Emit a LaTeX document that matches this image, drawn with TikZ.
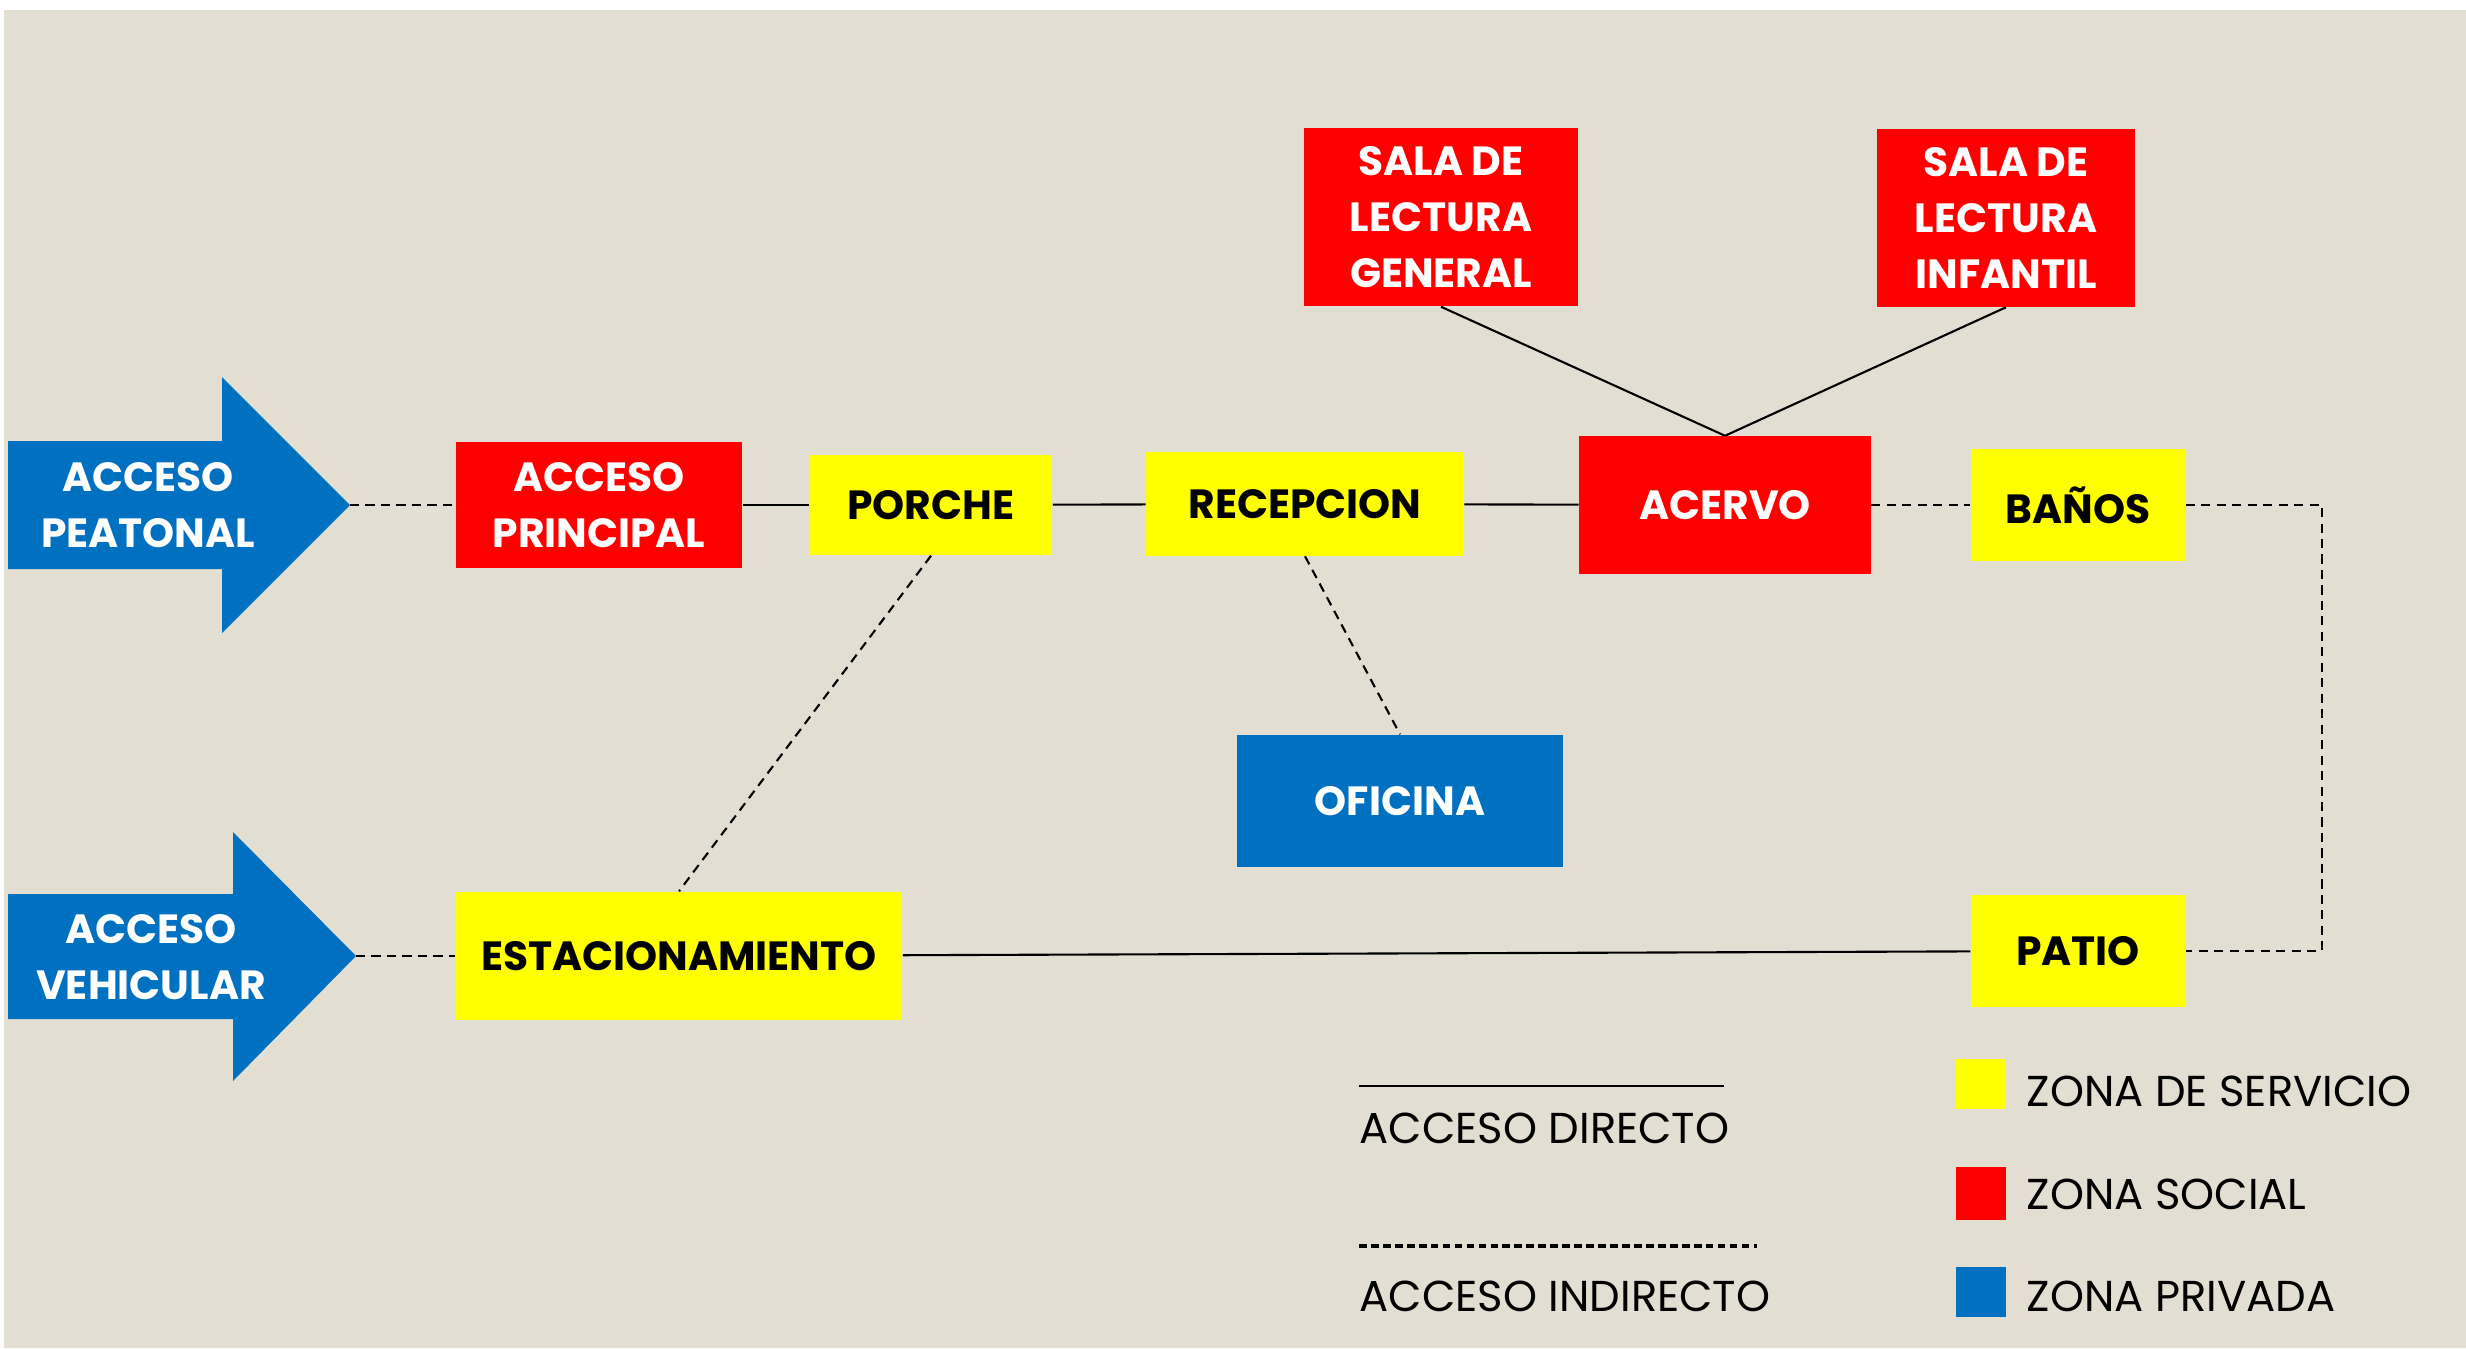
\documentclass[tikz,border=0pt]{standalone}
\usepackage{fontspec}
\setmainfont{Poppins}
\definecolor{fondo}{HTML}{E3DED2}
\definecolor{azul}{HTML}{0070C0}
\definecolor{rojo}{HTML}{FF0000}
\definecolor{amarillo}{HTML}{FFFF00}
\begin{document}
\begin{tikzpicture}[x=0.01cm,y=-0.01cm,
    zona/.style={inner sep=0pt, align=center, font=\fontsize{11.6}{16}\selectfont\bfseries},
    social/.style={zona, fill=rojo, text=white},
    servicio/.style={zona, fill=amarillo, text=black},
    privada/.style={zona, fill=azul, text=white},
    directo/.style={line width=0.6pt},
    indirecto/.style={line width=0.6pt, dash pattern=on 2.6pt off 1.8pt},
    leyenda/.style={anchor=west, inner sep=0pt, font=\fontsize{12.3}{14}\selectfont}]
      %fondo
      \useasboundingbox (0,0) rectangle (2466,1348);
      \fill[white] (0,0) rectangle (2466,1348);
      \fill[fondo] (4,10) rectangle (2466,1348);
      %flechas
      \fill[azul] (8,441)--(222,441)--(222,377)--(350,505)--(222,633)--(222,569)--(8,569)--cycle;
      \coordinate (P) at (350,505);
      \node[privada] (peatonal) at (148,505) {ACCESO\\PEATONAL};
      \fill[azul] (8,894)--(233,894)--(233,832)--(356,956)--(233,1081)--(233,1019)--(8,1019)--cycle;
      \coordinate (V) at (356,956);
      \node[privada] (vehicular) at (151,957) {ACCESO\\VEHICULAR};
      %espacios
      \node[social, minimum width=2.86cm, minimum height=1.25cm] (principal) at (599,505) {ACCESO\\PRINCIPAL};
      \node[servicio, minimum width=2.42cm, minimum height=1.00cm] (porche) at (931,505) {PORCHE};
      \node[servicio, minimum width=3.17cm, minimum height=1.03cm] (recepcion) at (1305,504) {RECEPCION};
      \node[social, minimum width=2.91cm, minimum height=1.37cm] (acervo) at (1725,505) {ACERVO};
      \node[servicio, minimum width=2.14cm, minimum height=1.11cm] (banos) at (2078,505) {BAÑOS};
      \node[social, minimum width=2.74cm, minimum height=1.78cm] (general) at (1441,217) {SALA DE\\LECTURA\\GENERAL};
      \node[social, minimum width=2.57cm, minimum height=1.77cm] (infantil) at (2006,218) {SALA DE\\LECTURA\\INFANTIL};
      \node[privada, minimum width=3.26cm, minimum height=1.32cm] (oficina) at (1400,801) {OFICINA};
      \node[servicio, minimum width=4.46cm, minimum height=1.28cm] (estac) at (679,956) {ESTACIONAMIENTO};
      \node[servicio, minimum width=2.14cm, minimum height=1.11cm] (patio) at (2078,951) {PATIO};
      %accesos
      \draw[indirecto] (P)--(principal);
      \draw[directo] (principal)--(porche);
      \draw[directo] (porche)--(recepcion);
      \draw[directo] (recepcion)--(acervo);
      \draw[indirecto] (acervo)--(banos);
      \draw[directo] (general.south)--(acervo.north);
      \draw[directo] (infantil.south)--(acervo.north);
      \draw[indirecto] (recepcion.south)--(oficina.north);
      \draw[indirecto] (porche.south)--(estac.north);
      \draw[indirecto] (V)--(estac);
      \draw[directo] (estac)--(patio);
      \coordinate (E1) at (2322,505);
      \coordinate (E2) at (2322,951);
      \draw[indirecto] (banos.east)--(E1)--(E2)--(patio.east);
      %leyenda
      \coordinate (D1) at (1359,1086); \coordinate (D2) at (1724,1086);
      \coordinate (I1) at (1359,1246); \coordinate (I2) at (1757,1246);
      \draw[directo] (D1)--(D2);
      \draw[line width=0.9pt, dash pattern=on 2.2pt off 1.2pt] (I1)--(I2);
      \node[leyenda] (ldirecto) at (1359,1128) {ACCESO DIRECTO};
      \node[leyenda] (lindirecto) at (1359,1296) {ACCESO INDIRECTO};
      \fill[amarillo] (1956,1059) rectangle (2006,1109);
      \fill[rojo] (1956,1167) rectangle (2006,1220);
      \fill[azul] (1956,1267) rectangle (2006,1317);
      \node[leyenda] (lservicio) at (2026,1091) {ZONA DE SERVICIO};
      \node[leyenda] (lsocial) at (2026,1194) {ZONA SOCIAL};
      \node[leyenda] (lprivada) at (2026,1296) {ZONA PRIVADA};
    \end{tikzpicture}
\end{document}
